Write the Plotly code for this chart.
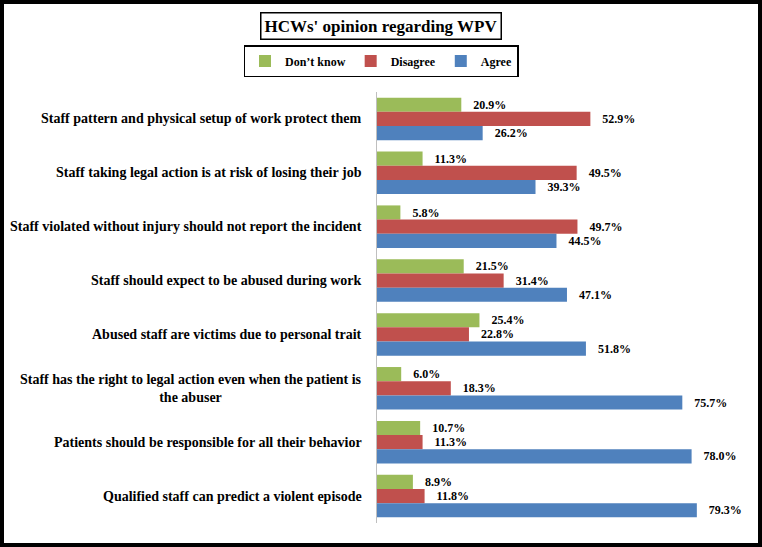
import plotly.graph_objects as go

categories = [
    "Staff pattern and physical setup of work protect them",
    "Staff taking legal action is at risk of losing their job",
    "Staff violated without injury should not report the incident",
    "Staff should expect to be abused during work",
    "Abused staff are victims due to personal trait",
    "Staff has the right to legal action even when the patient is<br>the abuser",
    "Patients should be responsible for all their behavior",
    "Qualified staff can predict a violent episode",
]
dont_know = [20.9, 11.3, 5.8, 21.5, 25.4, 6.0, 10.7, 8.9]
disagree = [52.9, 49.5, 49.7, 31.4, 22.8, 18.3, 11.3, 11.8]
agree = [26.2, 39.3, 44.5, 47.1, 51.8, 75.7, 78.0, 79.3]

W, H = 762, 547
L, R, T, B = 377, 22, 92, 24
pw, ph = W - L - R, H - T - B

FONT = "Liberation Serif, Times New Roman, serif"
fig = go.Figure()
for name, vals, color in [("Don\u2019t know", dont_know, "#9BBB59"),
                          ("Disagree", disagree, "#C0504D"),
                          ("Agree", agree, "#4F81BD")]:
    fig.add_trace(go.Bar(
        y=categories, x=vals, name="<b>" + name + "</b>", orientation="h",
        marker=dict(color=color, line=dict(width=0)),
        text=[f"\u00a0\u00a0\u00a0<b>{v:.1f}%</b>" for v in vals],
        textposition="outside", cliponaxis=False,
        textfont=dict(family=FONT, size=12, color="black"),
    ))

for c in categories:
    fig.add_annotation(x=-13 / pw, xref="paper", y=c, yref="y", text="<b>" + c + "</b>",
                       showarrow=False, xanchor="right", align="center",
                       font=dict(family=FONT, size=14, color="black"))

fig.add_annotation(x=(381 - L) / pw, xref="paper", y=(H - B - 26) / ph, yref="paper",
                   text="<b>HCWs' opinion regarding WPV</b>", showarrow=False,
                   xanchor="center", yanchor="middle",
                   font=dict(family=FONT, size=17, color="black"),
                   bordercolor="black", borderwidth=1.5, borderpad=3, bgcolor="white")

fig.add_shape(type="rect", xref="paper", yref="paper",
              x0=(-L + 2) / pw, x1=(W - L - 2) / pw,
              y0=(-B + 2) / ph, y1=(H - B - 2) / ph,
              line=dict(color="black", width=4))

fig.update_layout(
    width=W, height=H,
    margin=dict(l=L, r=R, t=T, b=B),
    barmode="group", bargap=0.21, bargroupgap=0,
    plot_bgcolor="white", paper_bgcolor="white",
    font=dict(family=FONT, color="black"),
    showlegend=True,
    legend=dict(orientation="h", x=(381 - L) / pw, xanchor="center",
                y=(H - B - 45) / ph, yanchor="top",
                bordercolor="black", borderwidth=1.5,
                font=dict(family=FONT, size=12, color="black"),
                traceorder="normal", itemwidth=30, tracegroupgap=0),
    xaxis=dict(range=[0, 90], visible=False, fixedrange=True),
    yaxis=dict(autorange="reversed", showticklabels=False, ticks="",
               showline=True, linecolor="#BFBFBF", linewidth=1,
               showgrid=False, zeroline=False, fixedrange=True),
)

fig.write_html("out.html", config={"displayModeBar": False},
               post_script="document.body.style.margin='0';document.body.style.overflow='hidden';")
